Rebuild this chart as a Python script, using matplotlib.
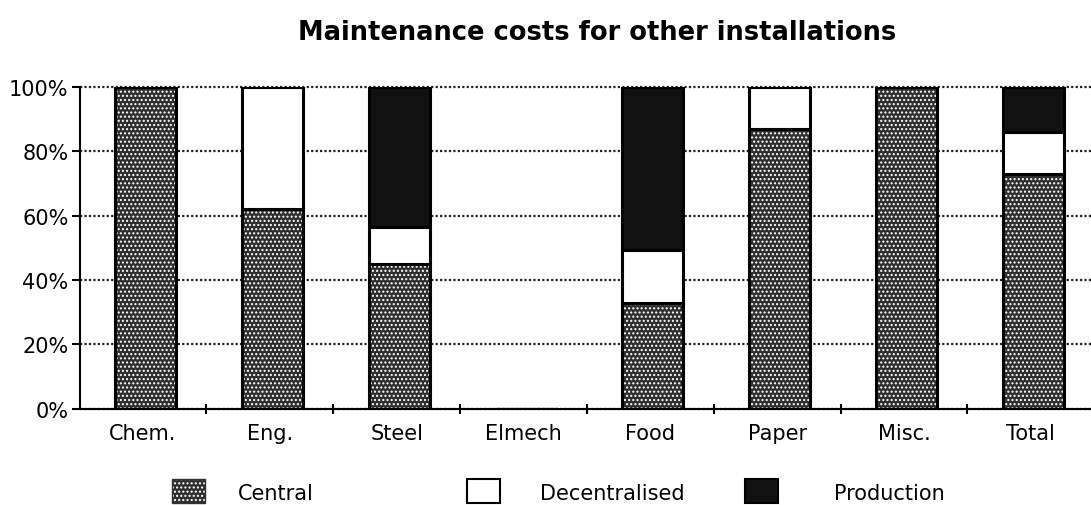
import matplotlib
matplotlib.use("Agg")
import matplotlib.pyplot as plt
from matplotlib.patches import Rectangle
import numpy as np

plt.rcParams['font.family'] = ['DejaVu Sans']
plt.rcParams['hatch.linewidth'] = 1.0

# Anteile in %
categories = ["Chem.", "Eng.", "Steel", "Elmech", "Food", "Paper", "Misc.", "Total"]
central = [100, 62, 45, 0, 33, 87, 100, 73]
decentralised = [0, 38, 11.5, 0, 16.5, 13, 0, 13]
production = [0, 0, 43.5, 0, 50.5, 0, 0, 14]
series_names = ["Central", "Decentralised", "Production"]

fig = plt.figure(figsize=(10.91, 5.06), dpi=100)
ax = fig.add_axes([0.073, 0.19, 0.93, 0.636])

x = np.arange(len(categories))
w = 0.48
central = np.array(central)
dec = np.array(decentralised)
prod = np.array(production)

# central: dark fill with white dot hatch, black outline drawn on top
ax.bar(x + 0.02, central, w, color='#2e2e2e', edgecolor='white', hatch='....', linewidth=0, zorder=2)
ax.bar(x + 0.02, central, w, color='none', edgecolor='black', linewidth=2.2, zorder=3)
ax.bar(x + 0.02, dec, w, bottom=central, color='white', edgecolor='black', linewidth=2.2, zorder=3)
ax.bar(x + 0.02, prod, w, bottom=central + dec, color='#111111', edgecolor='black', linewidth=2.2, zorder=3)

ax.set_xlim(-0.5, len(categories) - 0.5)
ax.set_ylim(0, 100)
ax.set_yticks(range(0, 101, 20))
ax.set_yticklabels([f"{v}%" for v in range(0, 101, 20)], fontsize=15)
ax.yaxis.grid(True, linestyle=(0, (1, 1)), color='#222222', linewidth=1.6, zorder=0)
ax.set_axisbelow(True)
for gl in ax.get_ygridlines():
    gl.set_clip_on(False)

ax.set_xticks(x)
ax.set_xticklabels(categories, fontsize=15)
ax.tick_params(axis='x', length=0, pad=10)
ax.set_xticks(np.arange(0.5, len(categories) - 0.5), minor=True)
ax.tick_params(axis='x', which='minor', length=7, width=1.5, direction='inout')
ax.tick_params(axis='y', length=6, width=1.5, direction='out', pad=2)

for s in ['top', 'right']:
    ax.spines[s].set_visible(False)
ax.spines['left'].set_linewidth(1.5)
ax.spines['bottom'].set_linewidth(1.5)

fig.text(0.547, 0.935, "Maintenance costs for other installations", ha='center',
         va='center', fontsize=18.5, fontweight='bold')

# legend, laid out like the original
legend_items = [
    (0.158, 0.218, dict(facecolor='#2e2e2e', edgecolor='white', hatch='....', linewidth=0)),
    (0.428, 0.495, dict(facecolor='white', edgecolor='black', linewidth=1.5)),
    (0.683, 0.764, dict(facecolor='#111111', edgecolor='black', linewidth=1.5)),
]
for (bx, tx, style), name in zip(legend_items, series_names):
    fig.patches.append(Rectangle((bx, 0.004), 0.03, 0.048, transform=fig.transFigure,
                                 **style))
    if 'hatch' in style:
        fig.patches.append(Rectangle((bx, 0.004), 0.03, 0.048, transform=fig.transFigure,
                                     facecolor='none', edgecolor='#333333', linewidth=1.0))
    fig.text(tx, 0.024, name, fontsize=15, va='center')

fig.savefig("out.png", dpi=100)
